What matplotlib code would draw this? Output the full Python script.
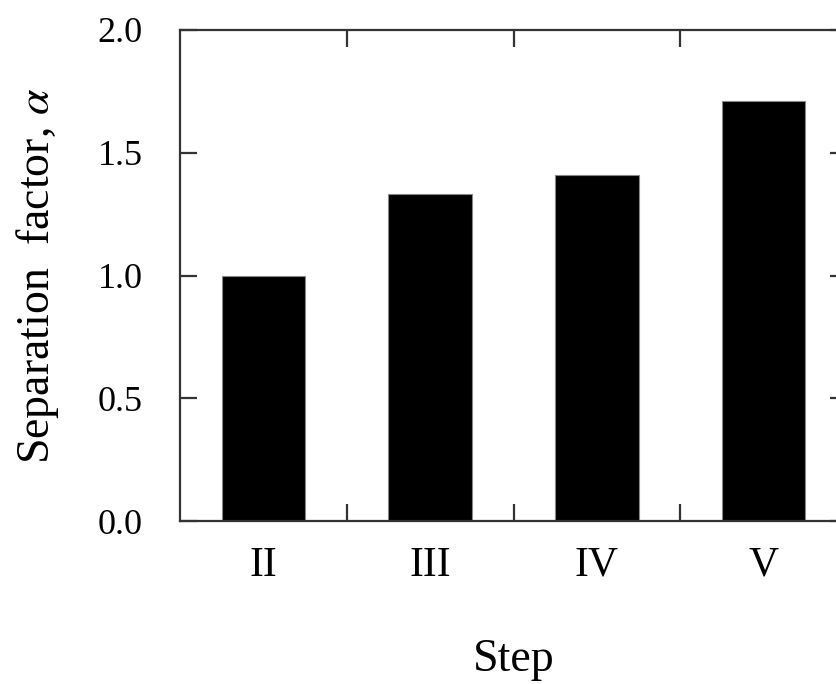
import matplotlib
matplotlib.use("Agg")
import matplotlib.pyplot as plt
import numpy as np

steps = ["II", "III", "IV", "V"]
alpha_values = [1.00, 1.33, 1.41, 1.71]
y_ticks = [0.0, 0.5, 1.0, 1.5, 2.0]

plt.rcParams['font.family'] = ['Liberation Serif', 'DejaVu Serif']
plt.rcParams['mathtext.fontset'] = 'stix'

fig = plt.figure(figsize=(8.36, 6.84), dpi=100)
ax = fig.add_axes([180/836, (684-521)/684, (847-180)/836, (521-30)/684])

x = np.arange(1, len(steps) + 1)
ax.bar(x, alpha_values, width=0.5, color='black', edgecolor='#888888', linewidth=0.8)

ax.set_xlim(0.5, len(steps) + 0.5)
ax.set_ylim(0, 2.0)
ax.set_yticks(y_ticks)
ax.set_yticklabels([f"{v:.1f}" for v in y_ticks])
ax.set_xticks(x)
ax.set_xticklabels(steps)
ax.set_xticks(x[:-1] + 0.5, minor=True)

for s in ax.spines.values():
    s.set_linewidth(1.6)
    s.set_color('#333333')

ax.tick_params(axis='x', which='major', length=0, pad=18, labelsize=30)
ax.tick_params(axis='x', which='minor', direction='in', length=12, width=1.6,
               top=True, bottom=True, color='#333333')
ax.tick_params(axis='y', which='major', direction='in', length=12, width=1.6,
               left=True, right=True, pad=27, labelsize=26, color='#333333')

ax.set_xlabel("Step", fontsize=33, labelpad=39)
ax.set_ylabel(r"Separation  factor, $\it{\alpha}$", fontsize=33, labelpad=26)

fig.savefig("out.png", dpi=100)
